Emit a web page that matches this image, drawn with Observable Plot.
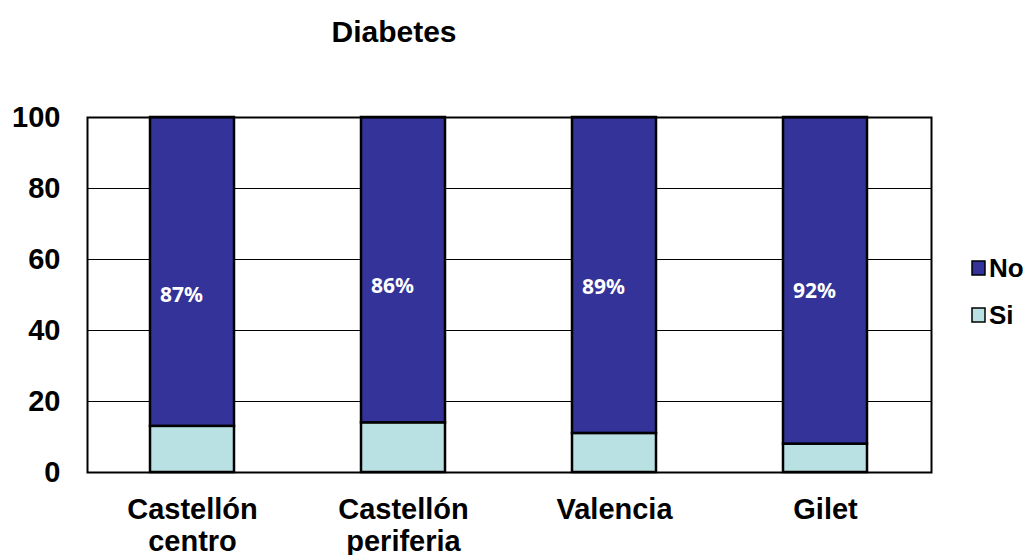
<!DOCTYPE html>
<html>
<head>
<meta charset="utf-8">
<script src="https://cdn.jsdelivr.net/npm/d3@7"></script>
<script src="https://cdn.jsdelivr.net/npm/@observablehq/plot@0.6"></script>
<style>
  html, body { margin: 0; padding: 0; background: white; }
</style>
</head>
<body>
<div id="chart"></div>
<script>
const categories = ["Castellón centro", "Castellón periferia", "Valencia", "Gilet"];
const seriesNames = ["No", "Si"];
const siValues = [13, 14, 11, 8];
const noValues = [87, 86, 89, 92];
const pctLabels = ["87%", "86%", "89%", "92%"];
const labelY = [50, 52.4, 52.1, 51];
const yTicks = [0, 20, 40, 60, 80, 100];
const title = "Diabetes";
const colors = ["#333399", "#B9E0E3"];

const data = [];
categories.forEach((c, i) => data.push({cat: c, series: "Si", value: siValues[i]}));
categories.forEach((c, i) => data.push({cat: c, series: "No", value: noValues[i]}));
const labelData = categories.map((c, i) => ({cat: c, y: labelY[i], text: pctLabels[i]}));

const font = "'Liberation Sans', Arial, sans-serif";

const svg = Plot.plot({
  width: 1031,
  height: 555,
  marginLeft: 87,
  marginRight: 100,
  marginTop: 117,
  marginBottom: 83,
  style: {fontFamily: font, background: "white", color: "black"},
  x: {domain: categories, paddingInner: 0.6, paddingOuter: 0.3, label: null},
  y: {domain: [0, 100], label: null},
  color: {domain: seriesNames, range: colors},
  marks: [
    Plot.gridY([20, 40, 60, 80], {stroke: "black", strokeOpacity: 1, strokeWidth: 1}),
    Plot.barY(data, {x: "cat", y: "value", fill: "series", stroke: "black", strokeWidth: 2.5}),
    Plot.frame({stroke: "black", strokeWidth: 2}),
    Plot.axisY({ticks: yTicks, tickSize: 0, tickPadding: 27, fontSize: 29, fontWeight: "bold", label: null}),
    Plot.axisX({tickSize: 0, tickPadding: 24, fontSize: 29, fontWeight: "bold", lineHeight: 1.1,
      tickFormat: d => d.replace(" ", "\n"), label: null}),
    Plot.text(labelData, {x: "cat", y: "y", text: "text", fill: "white", fontSize: 21,
      fontWeight: "bold", fontFamily: "'Noto Sans', 'Open Sans', sans-serif", dx: -11})
  ]
});

const s = d3.select(svg);
s.append("text")
  .attr("x", 394).attr("y", 42)
  .attr("text-anchor", "middle")
  .attr("font-family", font).attr("font-size", 30).attr("font-weight", "bold")
  .attr("fill", "black")
  .text(title);

const legendY = [268, 315];
seriesNames.forEach((name, i) => {
  const g = s.append("g");
  g.append("rect")
    .attr("x", 972).attr("y", legendY[i] - 7)
    .attr("width", 13).attr("height", 14)
    .attr("fill", colors[i]).attr("stroke", "black").attr("stroke-width", 1.5);
  g.append("text")
    .attr("x", 989).attr("y", legendY[i] + 9)
    .attr("text-anchor", "start")
    .attr("font-family", font).attr("font-size", 26).attr("font-weight", "bold")
    .attr("fill", "black")
    .text(name);
});

document.getElementById("chart").appendChild(svg);
</script>
</body>
</html>
